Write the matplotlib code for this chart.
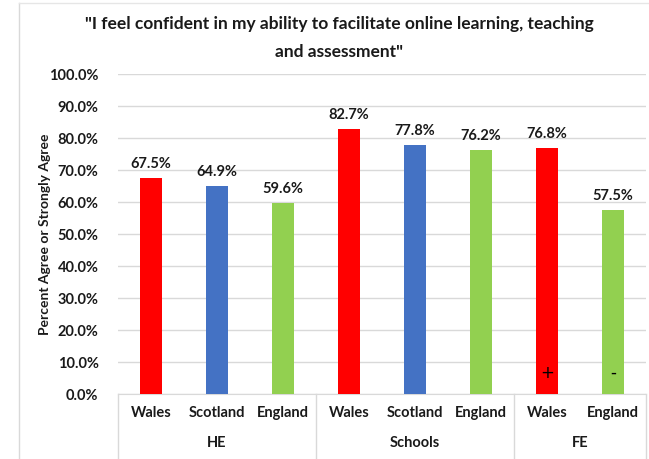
import matplotlib.pyplot as plt
from matplotlib.lines import Line2D

plt.rcParams['font.family'] = ['Lato', 'DejaVu Sans']

# data
sectors = ['HE', 'Schools', 'FE']
nations = [['Wales', 'Scotland', 'England'],
           ['Wales', 'Scotland', 'England'],
           ['Wales', 'England']]
values = [[67.5, 64.9, 59.6],
          [82.7, 77.8, 76.2],
          [76.8, 57.5]]
nation_colors = {'Wales': '#FF0000', 'Scotland': '#4472C4', 'England': '#92D050'}
signs = {(2, 0): '+', (2, 1): '-'}

fig = plt.figure(figsize=(6.49, 4.59), dpi=100)
ax = fig.add_axes([118 / 649, 1 - 394 / 459, (646 - 118) / 649, 320 / 459])

# flatten the two-level categories
xs, ys, cols, labs = [], [], [], []
pos = 0
group_edges = [0]
for g, (names, vals) in enumerate(zip(nations, values)):
    for i, (n, v) in enumerate(zip(names, vals)):
        xs.append(pos)
        ys.append(v / 100)
        cols.append(nation_colors[n])
        labs.append(n)
        if (g, i) in signs:
            ax.text(pos, 0.066, signs[(g, i)], ha='center', va='center',
                    fontsize=12, color='black', family='DejaVu Sans', zorder=5)
        pos += 1
    group_edges.append(pos)

ax.bar(xs, ys, width=0.33, color=cols, zorder=3)
for x, y in zip(xs, ys):
    ax.text(x, y + 0.022, f'{y * 100:.1f}%', ha='center', va='bottom',
            fontsize=10.5, fontweight='bold', color='#1a1a1a')

ax.set_xlim(-0.5, pos - 0.5)
ax.set_ylim(0, 1.0)
ax.set_yticks([i / 10 for i in range(11)])
ax.set_yticklabels([f'{i * 10:.1f}%' for i in range(11)], fontsize=10.5,
                   fontweight='bold', color='#1a1a1a')
ax.tick_params(axis='y', length=0, pad=14)
ax.set_xticks([])
ax.grid(axis='y', color='#d9d9d9', linewidth=1, zorder=0)
for s in ['top', 'right', 'left']:
    ax.spines[s].set_visible(False)
ax.spines['bottom'].set_color('#d9d9d9')

ax.set_ylabel('Percent Agree or Strongly Agree', fontsize=10,
              fontweight='bold', color='#1a1a1a')
ax.yaxis.set_label_coords(-0.127, 0.5)

# multi-level category labels below the axis
trans = ax.get_xaxis_transform()
for x, lab in zip(xs, labs):
    ax.text(x, -0.06, lab, transform=trans, ha='center', va='center',
            fontsize=10.5, fontweight='bold', color='#1a1a1a')
for g, name in enumerate(sectors):
    mid = (group_edges[g] + group_edges[g + 1] - 1) / 2
    ax.text(mid, -0.153, name, transform=trans, ha='center', va='center',
            fontsize=10.5, fontweight='bold', color='#1a1a1a')
for e in group_edges:
    ax.plot([e - 0.5, e - 0.5], [0, -0.21], transform=trans, color='#d9d9d9',
            linewidth=1, clip_on=False)

fig.text(0.523, 1 - 24 / 459, '"I feel confident in my ability to facilitate online learning, teaching',
         ha='center', va='center', fontsize=12.5, fontweight='bold', color='#1a1a1a')
fig.text(0.523, 1 - 52 / 459, 'and assessment"',
         ha='center', va='center', fontsize=12.5, fontweight='bold', color='#1a1a1a')

# chart frame
fig.add_artist(Line2D([19 / 649, 19 / 649], [0, 1 - 3 / 459], color='#d9d9d9', linewidth=1))
fig.add_artist(Line2D([19 / 649, 1], [1 - 3 / 459, 1 - 3 / 459], color='#e6e6e6', linewidth=1))

fig.savefig('out.png', dpi=100)
